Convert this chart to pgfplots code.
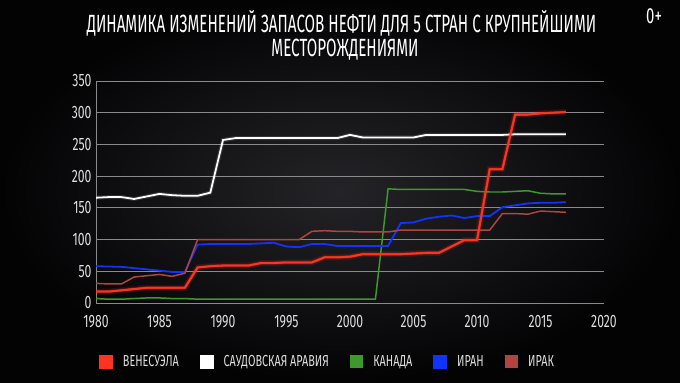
\documentclass[border=0pt]{standalone}
\usepackage{fontspec}
\setmainfont[FakeStretch=0.68]{Fira Sans}
\newfontfamily\titlefont[FakeStretch=0.61]{Fira Sans}
\usepackage{pgfplots}
\pgfplotsset{compat=1.18}
\definecolor{ven}{HTML}{FF3322}
\definecolor{sau}{HTML}{FFFFFF}
\definecolor{can}{HTML}{3C9A2C}
\definecolor{irn}{HTML}{1133FF}
\definecolor{irq}{HTML}{B0443E}
\definecolor{lab}{HTML}{DDDDDD}
\definecolor{gridc}{HTML}{8A8A8A}

\pgfplotstableread{
year val
1980 18
1981 18
1982 20
1983 22
1984 24
1985 24
1986 24
1987 24
1988 56
1989 58
1990 59
1991 59
1992 59
1993 63
1994 63
1995 64
1996 64
1997 64
1998 72
1999 72
2000 73
2001 77
2002 77
2003 77
2004 77
2005 78
2006 79
2007 79
2008 89
2009 99
2010 99
2011 211
2012 211
2013 297
2014 297
2015 299
2016 300
2017 301
}\ven

\pgfplotstableread{
year val
1980 166
1981 167
1982 167
1983 164
1984 168
1985 172
1986 170
1987 169
1988 169
1989 174
1990 257
1991 260
1992 260
1993 260
1994 260
1995 260
1996 260
1997 260
1998 260
1999 260
2000 265
2001 261
2002 261
2003 261
2004 261
2005 261
2006 265
2007 265
2008 265
2009 265
2010 265
2011 265
2012 265
2013 266
2014 266
2015 266
2016 266
2017 266
}\sau

\pgfplotstableread{
year val
1980 7
1981 6
1982 6
1983 7
1984 8
1985 8
1986 7
1987 7
1988 6
1989 6
1990 6
1991 6
1992 6
1993 6
1994 6
1995 6
1996 6
1997 6
1998 6
1999 6
2000 6
2001 6
2002 6
2003 180
2004 179
2005 179
2006 179
2007 179
2008 179
2009 179
2010 176
2011 175
2012 175
2013 176
2014 177
2015 173
2016 172
2017 172
}\can

\pgfplotstableread{
year val
1980 58
1981 57.5
1982 57
1983 55
1984 53
1985 51
1986 49
1987 49
1988 92
1989 93
1990 93
1991 93
1992 93
1993 94
1994 95
1995 89
1996 88
1997 93
1998 93
1999 90
2000 90
2001 90
2002 90
2003 90
2004 126
2005 127
2006 133
2007 136
2008 138
2009 134
2010 137
2011 137
2012 151
2013 154
2014 157
2015 158
2016 158
2017 159
}\irn

\pgfplotstableread{
year val
1980 31
1981 30
1982 30
1983 41
1984 43
1985 45
1986 42
1987 47
1988 100
1989 100
1990 100
1991 100
1992 100
1993 100
1994 100
1995 100
1996 100
1997 113
1998 114
1999 113
2000 113
2001 112
2002 112
2003 112
2004 115
2005 115
2006 115
2007 115
2008 115
2009 115
2010 115
2011 115
2012 141
2013 141
2014 140
2015 145
2016 144
2017 143
}\irq

\begin{document}
\begin{tikzpicture}[x=1bp,y=1bp]
\shade[inner color={rgb,255:red,36;green,36;blue,40}, outer color={rgb,255:red,3;green,3;blue,4}] (0,0) rectangle (680,382);
\path[use as bounding box] (0,0) rectangle (680,382);
\node[anchor=base, text=white, font=\titlefont\fontsize{25}{30}\selectfont] at (341.5,349.4) {ДИНАМИКА ИЗМЕНЕНИЙ ЗАПАСОВ НЕФТИ ДЛЯ 5 СТРАН С КРУПНЕЙШИМИ};
\node[anchor=base, text=white, font=\titlefont\fontsize{25}{30}\selectfont] at (345,325.3) {МЕСТОРОЖДЕНИЯМИ};
\node[anchor=base west, inner sep=0pt, text=white, font=\fontsize{22}{24}\selectfont] at (646,359) {0+};
\begin{axis}[
  at={(96bp,79bp)}, anchor=south west,
  width=508bp, height=222bp, scale only axis,
  xmin=1980, xmax=2020, ymin=0, ymax=350,
  axis x line*=bottom, axis y line*=left,
  axis line style={gridc, line width=1pt},
  ymajorgrids, grid style={gridc, line width=1pt},
  xtick={1980,1985,...,2020}, ytick={0,50,...,350},
  major tick length=0pt,
  /pgf/number format/1000 sep={},
  /pgf/number format/assume math mode=true,
  ticklabel style={text=lab, font=\fontsize{18}{20}\selectfont},
  xticklabel style={yshift=-9bp},
  yticklabel style={xshift=-1bp},
  legend columns=5,
  legend style={at={(0,-0.264)}, anchor=west, draw=none, fill=none,
    text=lab, font=\fontsize{16}{18}\selectfont,
    /tikz/every odd column/.style={column sep=8bp},
    /tikz/every even column/.style={column sep=19bp}},
  legend image code/.code={\fill[#1] (0bp,-6bp) rectangle (12bp,6bp);},
]
\addplot[ven, line width=1.8pt] table[x=year,y=val] {\ven};
\addlegendentry{ВЕНЕСУЭЛА}
\addplot[sau, line width=4pt, opacity=0.12, forget plot] table[x=year,y=val] {\sau};
\addplot[sau, line width=1.8pt] table[x=year,y=val] {\sau};
\addlegendentry{САУДОВСКАЯ АРАВИЯ}
\addplot[can, line width=1.5pt] table[x=year,y=val] {\can};
\addlegendentry{КАНАДА}
\addplot[irn, line width=1.8pt] table[x=year,y=val] {\irn};
\addlegendentry{ИРАН}
\addplot[irq, line width=1.5pt] table[x=year,y=val] {\irq};
\addlegendentry{ИРАК}
\addplot[ven, line width=6pt, opacity=0.12, forget plot] table[x=year,y=val] {\ven};
\addplot[ven, line width=3.5pt, opacity=0.22, forget plot] table[x=year,y=val] {\ven};
\addplot[ven, line width=1.8pt, forget plot] table[x=year,y=val] {\ven};
\end{axis}
\end{tikzpicture}
\end{document}
